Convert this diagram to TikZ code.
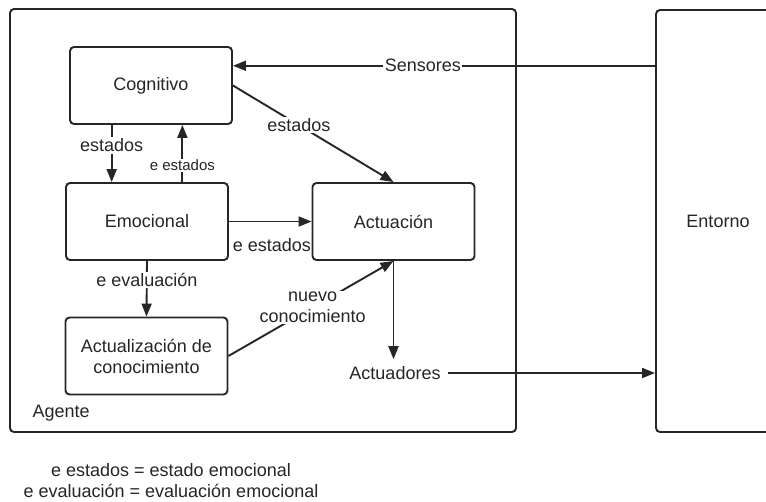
\documentclass[tikz,border=0pt]{standalone}
\usepackage{fontspec}
\setmainfont{Liberation Sans}
\usetikzlibrary{arrows.meta,calc}
\begin{document}
\begin{tikzpicture}[x=1pt,y=-1pt,
  ink/.style={draw=black!85, line width=1.9pt},
  txt/.style={text=black!85, font=\fontsize{18}{21}\selectfont},
  box/.style={ink, txt, rounded corners=4pt, minimum width=162pt, minimum height=77pt, inner sep=2pt, align=center},
  arr/.style={ink, -{Triangle[length=13pt,width=10pt]}},
  lbl/.style={txt, fill=white, inner sep=1.5pt, align=center},
  small/.style={text=black!85, fill=white, inner sep=1pt, font=\fontsize{15}{18}\selectfont}
]
\clip (0,0) rectangle (766,501);
\fill[white] (0,0) rectangle (766,501);

% outer frames
\node[ink, rounded corners=4pt, minimum width=506pt, minimum height=423pt] (agente) at (263,220.5) {};
\node[txt, anchor=west] (agentelbl) at (29,413) {Agente};
\node[box, minimum width=124pt, minimum height=422pt] (entorno) at (718,221) {Entorno};

% agent components
\node[box] (cog) at (151,85.5) {Cognitivo};
\node[box] (emo) at (147,221.5) {Emocional};
\node[box] (act) at (393.5,221.5) {Actuación};
\node[box] (upd) at (146.5,356) {Actualización de\\conocimiento};
\node[txt, inner sep=7pt] (actuadores) at (395,373) {Actuadores};

% sensors into the cognitive module
\coordinate (sin) at ($(cog.north east)!0.25!(cog.south east)$);
\draw[arr] (entorno.west |- sin) -- node[lbl, pos=0.55] {Sensores} (sin);

% cognitive <-> emotional
\coordinate (c2e) at ($(cog.south west)!0.26!(cog.south east)$);
\draw[arr] (c2e) -- node[lbl, pos=0.36] {estados} (c2e |- emo.north);
\coordinate (e2c) at ($(emo.north west)!0.716!(emo.north east)$);
\draw[arr] (e2c) -- node[small, pos=0.29] {e estados} (e2c |- cog.south);

% into the actuation module
\draw[arr] (cog.east) -- node[lbl, pos=0.41] {estados} (act.north);
\draw[arr] (emo.east) -- node[txt, pos=0.52, yshift=-24pt] {e estados} (act.west);
\draw[arr] (emo.south) -- node[lbl, pos=0.34] {e evaluación} (upd.north);
\draw[arr] (upd.east) -- node[lbl, pos=0.51] {nuevo\\conocimiento} (act.south);

% actuators out to the environment
\draw[arr] (act.south) -- (act.south |- actuadores.north);
\draw[arr] (actuadores.east) -- (actuadores.east -| entorno.west);

% legend
\node[txt, align=center, inner sep=1pt] (legend) at (171,481)
  {e estados = estado emocional\\e evaluación = evaluación emocional};
\end{tikzpicture}
\end{document}
